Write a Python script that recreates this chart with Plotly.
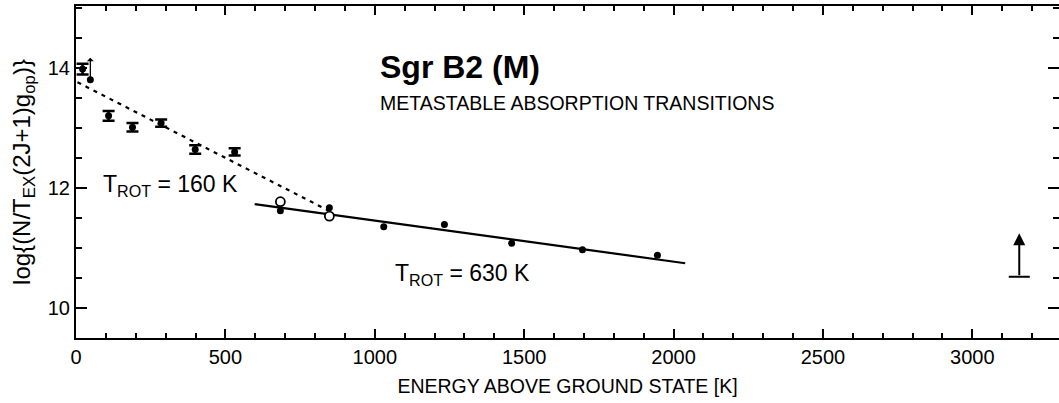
import plotly.graph_objects as go

# ---- data (energy above ground state [K], log column density) ----
err_E = [22, 109, 189, 285, 399, 531]
err_val = [13.98, 13.20, 13.01, 13.08, 12.64, 12.60]
err_size = [0.09, 0.08, 0.07, 0.06, 0.07, 0.06]

dot_E = [48, 684, 848, 1030, 1233, 1458, 1695, 1946]
dot_val = [13.80, 11.62, 11.67, 11.355, 11.39, 11.08, 10.97, 10.88]

open_E = [684, 848]
open_val = [11.77, 11.53]

fit160_E = [5, 846]
fit160_val = [13.76, 11.62]
fit630_E = [598, 2039]
fit630_val = [11.73, 10.745]

# lower limits: (energy, base value, arrow tip value)
limit_E = [48, 3157]
limit_base = [13.80, 10.52]
limit_tip = [14.17, 11.245]

x_ticks = [0, 500, 1000, 1500, 2000, 2500, 3000]
y_ticks = [10, 12, 14]

FONT = "Liberation Sans, Arial, Helvetica, sans-serif"

fig = go.Figure()

fig.add_trace(go.Scatter(x=fit160_E, y=fit160_val, mode="lines",
                         line=dict(color="black", width=2.2, dash="4px,5px"),
                         showlegend=False, hoverinfo="skip"))
fig.add_trace(go.Scatter(x=fit630_E, y=fit630_val, mode="lines",
                         line=dict(color="black", width=2.2),
                         showlegend=False, hoverinfo="skip"))
fig.add_trace(go.Scatter(x=err_E, y=err_val, mode="markers",
                         marker=dict(color="black", size=7),
                         error_y=dict(type="data", array=err_size, color="black",
                                      thickness=2.5, width=6),
                         showlegend=False))
fig.add_trace(go.Scatter(x=dot_E, y=dot_val, mode="markers",
                         marker=dict(color="black", size=7),
                         showlegend=False))
fig.add_trace(go.Scatter(x=open_E, y=open_val, mode="markers",
                         marker=dict(color="white", size=9,
                                     line=dict(color="black", width=1.8)),
                         showlegend=False))
# base bar of the right-hand lower limit
fig.add_trace(go.Scatter(x=limit_E[1:], y=limit_base[1:], mode="markers",
                         marker=dict(symbol="line-ew", size=15,
                                     line=dict(color="black", width=2)),
                         showlegend=False))

for i, (e, b, t) in enumerate(zip(limit_E, limit_base, limit_tip)):
    fig.add_annotation(x=e, y=t, ax=e, ay=b, xref="x", yref="y",
                       axref="x", ayref="y", text="", showarrow=True,
                       arrowhead=2 if i else 1, arrowsize=1.2 if i else 0.9,
                       arrowwidth=2 if i else 1.3, arrowcolor="black")

fig.add_annotation(x=0.307, y=0.815, xref="paper", yref="paper",
                   text="<b>Sgr B2 (M)</b>", showarrow=False,
                   xanchor="left", yanchor="middle",
                   font=dict(family=FONT, size=32, color="black"))
fig.add_annotation(x=0.307, y=0.707, xref="paper", yref="paper",
                   text="METASTABLE ABSORPTION TRANSITIONS", showarrow=False,
                   xanchor="left", yanchor="middle",
                   font=dict(family=FONT, size=19.5, color="black"))
fig.add_annotation(x=0.025, y=0.46, xref="paper", yref="paper",
                   text="T<sub>ROT</sub> = 160 K", showarrow=False,
                   xanchor="left", yanchor="middle",
                   font=dict(family=FONT, size=23, color="black"))
fig.add_annotation(x=0.322, y=0.19, xref="paper", yref="paper",
                   text="T<sub>ROT</sub> = 630 K", showarrow=False,
                   xanchor="left", yanchor="middle",
                   font=dict(family=FONT, size=23, color="black"))

axis_common = dict(showline=True, linecolor="black", linewidth=2,
                   ticks="inside", tickcolor="black", tickwidth=2,
                   mirror="ticks", showgrid=False, zeroline=False,
                   automargin=False,
                   tickfont=dict(family=FONT, size=20, color="black"))

fig.update_xaxes(range=[0, 3290], tickvals=x_ticks, ticklen=9,
                 minor=dict(dtick=100, tick0=0, ticklen=5, ticks="inside",
                            tickcolor="black", tickwidth=2),
                 title=dict(text="ENERGY ABOVE GROUND STATE [K]",
                            font=dict(family=FONT, size=19.5, color="black"),
                            standoff=12),
                 **axis_common)
fig.update_yaxes(range=[9.5, 15.03], tickvals=y_ticks, ticklen=11,
                 minor=dict(dtick=0.5, tick0=9.5, ticklen=6, ticks="inside",
                            tickcolor="black", tickwidth=2),
                 title=dict(text="log{(N/T<sub>EX</sub>(2J+1)g<sub>op</sub>)}",
                            font=dict(family=FONT, size=24, color="black"),
                            standoff=10),
                 **axis_common)

fig.update_layout(width=1059, height=403,
                  margin=dict(l=76, r=0, t=6, b=65),
                  plot_bgcolor="white", paper_bgcolor="white",
                  font=dict(family=FONT, color="black"))

fig.write_html("out.html", config={"displayModeBar": False},
               post_script="document.body.style.margin='0';")
